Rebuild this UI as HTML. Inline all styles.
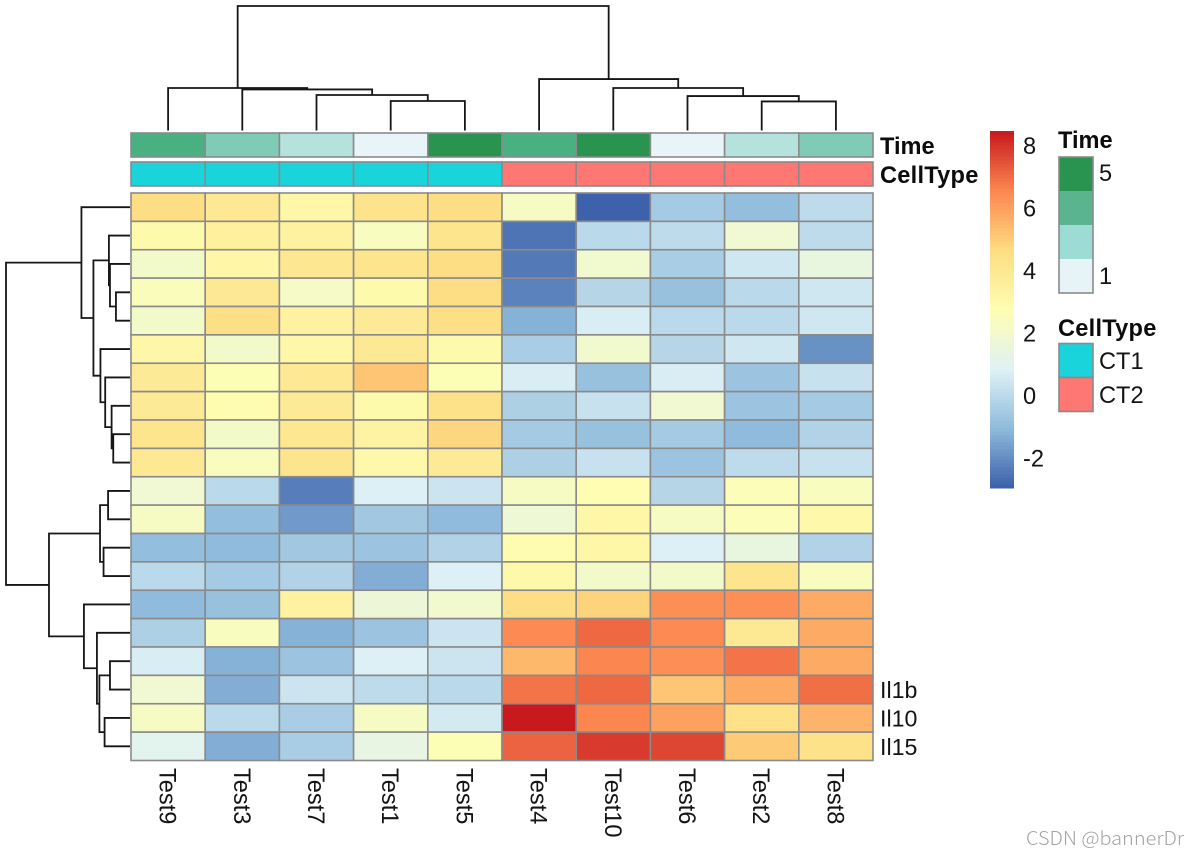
<!DOCTYPE html>
<html lang="en">
<head>
<meta charset="utf-8">
<title>Heatmap of cytokine expression</title>
<style>
html,body{margin:0;padding:0;background:#fff;}
body{width:1200px;height:857px;overflow:hidden;}
svg{display:block;font-family:"Liberation Sans",Arial,sans-serif;}
text{fill:#141414;}
.b{font-weight:bold;font-size:23.6px;fill:#0c0c0c;}
.r{font-size:23.6px;}
</style>
</head>
<body>
<svg id="chart" xmlns="http://www.w3.org/2000/svg" width="1200" height="857" viewBox="0 0 1200 857">
  <g id="col-tree"></g>
  <g id="row-tree"></g>
  <g id="anno"></g>
  <g id="cells"></g>
  <g id="col-labels"></g>
  <g id="row-labels"></g>
  <text class="b" x="880" y="154">Time</text>
  <text class="b" x="880" y="183" letter-spacing="0.25">CellType</text>
  <g id="colorbar"></g>
  <text class="b" x="1058" y="148">Time</text>
  <g id="time-legend"></g>
  <text class="r" x="1099" y="181">5</text>
  <text class="r" x="1099" y="284">1</text>
  <text class="b" x="1058" y="336" letter-spacing="0.25">CellType</text>
  <g id="type-legend"></g>
  <text class="r" x="1099" y="369">CT1</text>
  <text class="r" x="1099" y="403">CT2</text>
  <text x="1026" y="845" textLength="158" lengthAdjust="spacingAndGlyphs" style="font-family:'Noto Sans CJK SC',sans-serif;font-size:19px;font-weight:300;fill:#a4a4a4">CSDN @bannerDr</text>
</svg>
<script>
// ---- data ----
const colNames = ["Test9","Test3","Test7","Test1","Test5","Test4","Test10","Test6","Test2","Test8"];
const rowNames = ["","","","","","","","","","","","","","","","","","Il1b","Il10","Il15"];
const values = [
 [4.6,4.0,3.2,4.3,4.6,2.3,-2.9,-0.5,-0.9,0.1],
 [3.0,3.6,3.5,2.4,4.2,-2.5,0.0,0.1,1.9,0.1],
 [2.1,3.2,4.1,4.2,4.6,-2.4,2.0,-0.4,0.5,1.5],
 [2.5,4.0,2.2,3.0,4.6,-2.2,-0.1,-0.8,0.0,0.5],
 [2.1,4.5,3.5,3.9,4.5,-1.2,0.7,0.0,0.0,0.5],
 [3.2,2.1,3.2,4.0,3.0,-0.4,2.0,-0.1,0.5,-1.9],
 [3.9,2.7,4.0,5.2,2.7,0.7,-0.8,0.7,-0.7,0.3],
 [3.9,2.9,3.9,3.0,4.4,-0.3,0.3,1.9,-0.7,-0.5],
 [4.2,2.1,4.1,3.4,4.8,-0.5,-0.8,-0.5,-1.0,-0.2],
 [4.0,2.4,4.2,3.1,3.9,-0.3,0.3,-0.7,0.1,0.3],
 [1.9,0.0,-2.3,0.8,0.4,2.3,2.8,-0.1,2.6,2.4],
 [2.3,-0.9,-1.7,-0.6,-1.0,1.8,3.2,2.3,2.6,3.1],
 [-0.9,-1.0,-0.6,-0.7,-0.2,2.9,3.2,0.8,1.5,-0.2],
 [0.0,-0.5,-0.2,-1.3,0.8,3.1,2.1,2.1,4.2,2.4],
 [-1.0,-0.8,3.5,1.7,2.0,4.6,4.9,6.4,6.4,5.8],
 [-0.3,2.4,-1.2,-0.7,0.4,6.5,7.1,6.5,4.0,5.8],
 [0.7,-1.2,-0.7,0.8,0.4,5.5,6.6,6.4,6.9,5.8],
 [1.9,-1.3,0.4,0.1,0.0,6.9,7.1,5.2,5.8,7.0],
 [2.3,0.0,-0.4,2.3,0.6,8.5,6.6,6.0,4.4,5.6],
 [1.1,-1.3,-0.4,1.4,2.7,7.2,7.9,7.7,5.1,4.4]
];
const timeValues = [4,3,2,1,5,4,5,1,2,3];
const cellTypes = ["CT1","CT1","CT1","CT1","CT1","CT2","CT2","CT2","CT2","CT2"];
const timeLegendLevels = [5,4,3,2];
const colorTicks = [8,6,4,2,0,-2];
const colorDomain = [-2.94,8.48];
// hclust-style merges: negative = leaf (1-based), positive = earlier merge (1-based)
const colMergeA = [-4,-3,-2,-1,-9,-8,-7,-6,4];
const colMergeB = [-5,1,2,3,-10,5,6,7,8];
const colMergeH = [14.2,17.1,19.8,20.5,14.0,16.6,20.5,24.8,60];
const rowMergeA = [-4,-3,-2,-9,-8,-7,-6,3,-1,-11,-13,10,-17,-19,13,-16,-15,12,9];
const rowMergeB = [-5,1,2,-10,4,5,6,7,8,-12,-14,11,-18,-20,14,15,16,17,18];
const rowMergeH = [6.8,9.7,10.2,8.1,8.9,12.0,14.3,17.7,23.5,10.6,12.8,14.5,9.7,12.3,14.8,16.0,22.3,39.2,60];

// ---- palettes ----
const rampColors = [[59,95,169],[142,186,219],[223,242,246],[254,254,178],[253,221,130],[252,135,80],[200,25,30]];
const timePalette = {1:"#e8f4f8",2:"#b5e2dc",3:"#80cbb5",4:"#49b082",5:"#289450"};
const timeLegendPalette = {5:"#289450",4:"#5ab58f",3:"#9cdcd5",2:"#e6f4f7"};
const typePalette = {CT1:"#1ad4dc",CT2:"#ff7772"};
const gridStroke = "#8a8a8a";

// ---- axes ----
const NS = "http://www.w3.org/2000/svg";
const gx0 = 131, gx1 = 873, gy0 = 193, gy1 = 760.5;
const cw = (gx1-gx0)/colNames.length, ch = (gy1-gy0)/rowNames.length;
const xPos = i => gx0 + cw*i;
const yPos = i => gy0 + ch*i;
const colHeightScale = h => 130.5 - h*(124.5/60);
const rowHeightScale = h => 130 - h*(124/60);
const legendY = v => 488 - (v-colorDomain[0])/(colorDomain[1]-colorDomain[0])*357;
function colorOf(v){
  let t = (v-colorDomain[0])/(colorDomain[1]-colorDomain[0]);
  t = Math.max(0,Math.min(1,t))*(rampColors.length-1);
  const i = Math.min(Math.floor(t),rampColors.length-2), f = t-i;
  const c = rampColors[i].map((a,k)=>Math.round(a+(rampColors[i+1][k]-a)*f));
  return "rgb("+c.join(",")+")";
}
function mk(tag,parent,attrs){
  const el = document.createElementNS(NS,tag);
  for(const k in attrs) el.setAttribute(k,attrs[k]);
  parent.appendChild(el);
  return el;
}
const $ = id => document.getElementById(id);

// ---- heatmap cells ----
values.forEach((row,r)=>row.forEach((v,c)=>{
  const el = mk("rect",$("cells"),{x:xPos(c),y:yPos(r),width:cw,height:ch,fill:colorOf(v),stroke:gridStroke,"stroke-width":1.6});
  
  
}));

// ---- annotation bars ----
colNames.forEach((n,c)=>{
  const a = mk("rect",$("anno"),{x:xPos(c),y:133,width:cw,height:24,fill:timePalette[timeValues[c]],stroke:gridStroke,"stroke-width":1.6});
  
  
  const b = mk("rect",$("anno"),{x:xPos(c),y:162,width:cw,height:24,fill:typePalette[cellTypes[c]],stroke:gridStroke,"stroke-width":1.6});
  
  
  const cx = xPos(c)+cw/2;
  const t = mk("text",$("col-labels"),{transform:"translate("+(cx-8.5)+",768) rotate(90)","font-size":"23.6"});
  t.textContent = n;
  
  
});

// ---- row labels ----
rowNames.forEach((n,r)=>{
  if(!n) return;
  const t = mk("text",$("row-labels"),{x:880,y:yPos(r)+ch/2+8.5,"font-size":"23.2"});
  t.textContent = n;
  
  
});

// ---- dendrograms ----
function drawTree(group,A,B,H,leafPos,heightPos,horizontalRoot){
  const nodes = [];
  const resolve = id => id<0 ? {p:leafPos(-id-1),h:heightPos(0)} : nodes[id-1];
  A.forEach((a,i)=>{
    const n1 = resolve(a), n2 = resolve(B[i]), h = heightPos(H[i]);
    nodes.push({p:(n1.p+n2.p)/2,h:h});
    const d = horizontalRoot
      ? "M"+n1.p+" "+n1.h+"V"+h+"H"+n2.p+"V"+n2.h
      : "M"+n1.h+" "+n1.p+"H"+h+"V"+n2.p+"H"+n2.h;
    const el = mk("path",group,{d:d,fill:"none",stroke:"#161616","stroke-width":1.8});
    
    
  });
}
drawTree($("col-tree"),colMergeA,colMergeB,colMergeH,i=>xPos(i)+cw/2,colHeightScale,true);
drawTree($("row-tree"),rowMergeA,rowMergeB,rowMergeH,i=>yPos(i)+ch/2,rowHeightScale,false);

// ---- colour bar ----
const steps = 100;
for(let i=0;i<steps;i++){
  const v0 = colorDomain[0]+(colorDomain[1]-colorDomain[0])*i/steps;
  const v1 = colorDomain[0]+(colorDomain[1]-colorDomain[0])*(i+1)/steps;
  const el = mk("rect",$("colorbar"),{x:990,y:legendY(v1),width:24,height:legendY(v0)-legendY(v1)+0.5,fill:colorOf((v0+v1)/2)});
  
  
}
colorTicks.forEach(v=>{
  const t = mk("text",$("colorbar"),{x:1023,y:legendY(v)+8,"font-size":"23.6"});
  t.textContent = String(v);
  
  
});

// ---- discrete legends ----
timeLegendLevels.forEach((l,i)=>{
  const el = mk("rect",$("time-legend"),{x:1059,y:157+i*34,width:34,height:34,fill:timeLegendPalette[l]});
  
  
});
const tb = mk("rect",$("time-legend"),{x:1059,y:157,width:34,height:136,fill:"none",stroke:gridStroke,"stroke-width":1.6});


Object.keys(typePalette).forEach((k,i)=>{
  const el = mk("rect",$("type-legend"),{x:1059,y:343.5+i*34,width:34,height:34,fill:typePalette[k],stroke:gridStroke,"stroke-width":1.6});
  
  
});
</script>
</body>
</html>
